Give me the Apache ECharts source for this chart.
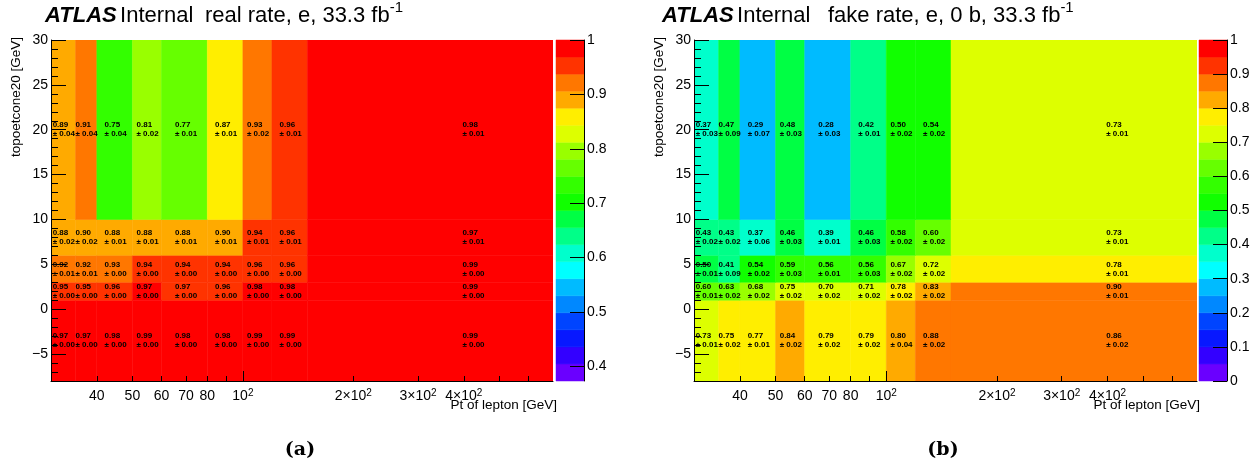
<!DOCTYPE html>
<html><head><meta charset="utf-8">
<script src="https://cdn.jsdelivr.net/npm/echarts@6/dist/echarts.min.js"></script>
<style>html,body{margin:0;padding:0;background:#fff}#c{width:1260px;height:469px}</style>
</head><body><div id="c"></div>
<script>
// ---- data ----
const PT_EDGES = [30, 35, 40, 50, 60, 80, 100, 120, 150, 700];
const ISO_EDGES = [-8, 1, 3, 6, 10, 30];
const PT_RANGE = [30, 700];
const ISO_RANGE = [-8, 30];
// rows: bottom (-8..1) to top (10..30); columns follow PT_EDGES
const REAL_RATE = [
  [0.97, 0.97, 0.98, 0.99, 0.98, 0.98, 0.99, 0.99, 0.99],
  [0.95, 0.95, 0.96, 0.97, 0.966, 0.96, 0.98, 0.98, 0.99],
  [0.92, 0.92, 0.93, 0.94, 0.94, 0.94, 0.96, 0.96, 0.99],
  [0.88, 0.90, 0.88, 0.88, 0.88, 0.90, 0.94, 0.96, 0.97],
  [0.89, 0.91, 0.748, 0.81, 0.77, 0.87, 0.93, 0.96, 0.98]
];
const REAL_ERR = [
  [0, 0, 0, 0, 0, 0, 0, 0, 0],
  [0, 0, 0, 0, 0, 0, 0, 0, 0],
  [0.01, 0.01, 0, 0, 0, 0, 0, 0, 0],
  [0.02, 0.02, 0.01, 0.01, 0.01, 0.01, 0.01, 0.01, 0.01],
  [0.04, 0.04, 0.04, 0.02, 0.01, 0.01, 0.02, 0.01, 0.01]
];
const FAKE_RATE = [
  [0.73, 0.75, 0.77, 0.84, 0.79, 0.79, 0.80, 0.88, 0.86],
  [0.60, 0.63, 0.68, 0.749, 0.70, 0.71, 0.78, 0.83, 0.898],
  [0.498, 0.41, 0.54, 0.59, 0.56, 0.56, 0.67, 0.72, 0.78],
  [0.43, 0.43, 0.37, 0.46, 0.39, 0.46, 0.58, 0.60, 0.73],
  [0.37, 0.47, 0.29, 0.48, 0.28, 0.42, 0.50, 0.54, 0.73]
];
const FAKE_ERR = [
  [0.01, 0.02, 0.01, 0.02, 0.02, 0.02, 0.04, 0.02, 0.02],
  [0.01, 0.02, 0.02, 0.02, 0.02, 0.02, 0.02, 0.02, 0.01],
  [0.01, 0.09, 0.02, 0.03, 0.01, 0.03, 0.02, 0.02, 0.01],
  [0.02, 0.02, 0.06, 0.03, 0.01, 0.03, 0.02, 0.02, 0.01],
  [0.03, 0.09, 0.07, 0.03, 0.03, 0.01, 0.02, 0.02, 0.01]
];
const REAL_Z = [0.3732, 1];
const FAKE_Z = [0, 1];
const PT_TICKS = [40, 50, 60, 70, 80, 90, 200, 300, 400, 500, 600];
const PT_MAJOR = [100];
const PT_LABELS = [40, 50, 60, 70, 80, 100, 200, 300, 400];
const ISO_MAJOR = [-5, 0, 5, 10, 15, 20, 25, 30];
const ISO_MINOR = [-7,-6,-4,-3,-2,-1,1,2,3,4,6,7,8,9,11,12,13,14,16,17,18,19,21,22,23,24,26,27,28,29];
const REAL_CBAR_TICKS = [0.4, 0.5, 0.6, 0.7, 0.8, 0.9, 1];
const FAKE_CBAR_TICKS = [0, 0.1, 0.2, 0.3, 0.4, 0.5, 0.6, 0.7, 0.8, 0.9, 1];

// ---- style ----
const PALETTE = ['#6a00ff','#3300ff','#0818ff','#0044ff','#0088ff','#00bbff','#00ffff','#00ffcc','#00ff88','#00ff44',
                 '#11ff00','#33ff00','#66ff00','#99ff00','#ddff00','#ffee00','#ffaa00','#ff7700','#ff3300','#ff0000'];
const FONT = 'Liberation Sans';

function zColor(v, range) {
  const n = PALETTE.length;
  const k = Math.floor((v - range[0]) / (range[1] - range[0]) * n + 1e-9);
  return PALETTE[Math.max(0, Math.min(n - 1, k))];
}
function buildCells(rates, errs) {
  const out = [];
  for (let r = 0; r < rates.length; r++)
    for (let c = 0; c < rates[r].length; c++)
      out.push([PT_EDGES[c], PT_EDGES[c + 1], ISO_EDGES[r], ISO_EDGES[r + 1], rates[r][c], errs[r][c]]);
  return out;
}
function cellRenderer(range) {
  return function (params, api) {
    const a = api.coord([api.value(0), api.value(3)]);
    const b = api.coord([api.value(1), api.value(2)]);
    const col = zColor(api.value(4), range);
    return { type: 'rect', shape: { x: a[0], y: a[1], width: b[0] - a[0], height: b[1] - a[1] },
             style: { fill: col, stroke: col, lineWidth: 0.5 } };
  };
}
function labelRenderer(params, api) {
  const x = (api.value(0) + api.value(1)) / 2, y = (api.value(2) + api.value(3)) / 2;
  const p = api.coord([x, y]);
  return { type: 'text', x: p[0], y: p[1],
    style: { text: '{v|' + api.value(4).toFixed(2) + '}\n{v|\u00b1 ' + api.value(5).toFixed(2) + '}',
             align: 'center', verticalAlign: 'middle',
             rich: { v: { align: 'left', fontSize: 8, fontWeight: 'bold', fontFamily: FONT, lineHeight: 9, fill: '#000' } } } };
}
function cbarRenderer(range) {
  return function (params, api) {
    const i = api.value(0), n = PALETTE.length;
    const lo = range[0] + (range[1] - range[0]) * i / n, hi = range[0] + (range[1] - range[0]) * (i + 1) / n;
    const a = api.coord([0, hi]), b = api.coord([1, lo]);
    return { type: 'rect', shape: { x: a[0], y: a[1], width: b[0] - a[0], height: b[1] - a[1] },
             style: { fill: PALETTE[i], stroke: PALETTE[i], lineWidth: 0.5 } };
  };
}
function fmtPt(v) {
  const e = Math.round(Math.log10(v));
  if (v >= 100) {
    const m = Math.round(v / 100);
    return m === 1 ? '{n|10}{s|2}' : '{n|' + m + '\u00d710}{s|2}';
  }
  return '{n|' + v + '}';
}
const black = { color: '#000', width: 1 };
function xAxesFor(grid) {
  return [{
    type: 'log', gridIndex: grid, position: 'bottom', min: PT_RANGE[0], max: PT_RANGE[1], logBase: 10, z: 10,
    axisLine: { show: true, onZero: false, lineStyle: black },
    axisTick: { show: true, inside: true, length: 5, customValues: PT_TICKS, lineStyle: black },
    axisLabel: { show: true, margin: 7, customValues: PT_LABELS, formatter: fmtPt,
      rich: { n: { fontSize: 14, lineHeight: 16, fontFamily: FONT, color: '#000' },
              s: { fontSize: 10, lineHeight: 8, verticalAlign: 'top', fontFamily: FONT, color: '#000' } } },
    splitLine: { show: false }, minorTick: { show: false }
  }, {
    type: 'log', gridIndex: grid, position: 'bottom', min: PT_RANGE[0], max: PT_RANGE[1], logBase: 10, z: 10,
    axisLine: { show: false, onZero: false },
    axisTick: { show: true, inside: true, length: 10, customValues: PT_MAJOR, lineStyle: black },
    axisLabel: { show: false }, splitLine: { show: false }
  }];
}
function yAxesFor(grid) {
  return [{
    type: 'value', gridIndex: grid, position: 'left', min: ISO_RANGE[0], max: ISO_RANGE[1], z: 10,
    axisLine: { show: true, onZero: false, lineStyle: black },
    axisTick: { show: true, inside: true, length: 15, customValues: ISO_MAJOR, lineStyle: black },
    axisLabel: { show: true, margin: 3, customValues: ISO_MAJOR, fontSize: 14, fontFamily: FONT, color: '#000',
      formatter: v => (v < 0 ? '\u2212' + (-v) : String(v)) },
    splitLine: { show: false }
  }, {
    type: 'value', gridIndex: grid, position: 'left', min: ISO_RANGE[0], max: ISO_RANGE[1], z: 10,
    axisLine: { show: false, onZero: false },
    axisTick: { show: true, inside: true, length: 7, customValues: ISO_MINOR, lineStyle: black },
    axisLabel: { show: false }, splitLine: { show: false }
  }];
}
function cbarX(grid) {
  return { type: 'value', gridIndex: grid, min: 0, max: 1, show: false };
}
function cbarY(grid, range, ticks) {
  return { type: 'value', gridIndex: grid, position: 'right', min: range[0], max: range[1], z: 10,
    axisLine: { show: true, onZero: false, lineStyle: black },
    axisTick: { show: true, inside: true, length: 14, customValues: ticks, lineStyle: black },
    axisLabel: { show: true, margin: 3, customValues: ticks, fontSize: 14, fontFamily: FONT, color: '#000',
      formatter: v => String(v) },
    splitLine: { show: false } };
}
const titleRich = {
  a: { fontSize: 22, fontWeight: 'bold', fontStyle: 'italic', fontFamily: FONT, lineHeight: 30, fill: '#000' },
  b: { fontSize: 22, fontFamily: FONT, lineHeight: 30, fill: '#000' },
  s: { fontSize: 15, fontFamily: FONT, lineHeight: 16, verticalAlign: 'top', fill: '#000' }
};
function txt(x, y, text, extra) {
  return Object.assign({ type: 'text', x: x, y: y, z: 20,
    style: Object.assign({ text: text, fill: '#000', verticalAlign: 'middle', align: 'left', fontFamily: FONT }, extra || {}) });
}

const chart = echarts.init(document.getElementById('c'), null, { renderer: 'canvas' });
chart.setOption({
  animation: false,
  backgroundColor: '#fff',
  textStyle: { fontFamily: FONT },
  grid: [
    { left: 51, top: 40, width: 502, height: 341 },
    { left: 556, top: 40, width: 28, height: 341 },
    { left: 694, top: 40, width: 503, height: 341 },
    { left: 1199, top: 40, width: 28, height: 341 }
  ],
  xAxis: [].concat(xAxesFor(0), [cbarX(1)], xAxesFor(2), [cbarX(3)]),
  yAxis: [].concat(yAxesFor(0), [cbarY(1, REAL_Z, REAL_CBAR_TICKS)], yAxesFor(2), [cbarY(3, FAKE_Z, FAKE_CBAR_TICKS)]),
  series: [
    { type: 'custom', name: 'real rate', xAxisIndex: 0, yAxisIndex: 0, z: 2, clip: true,
      encode: { x: [0, 1], y: [2, 3] }, renderItem: cellRenderer(REAL_Z), data: buildCells(REAL_RATE, REAL_ERR) },
    { type: 'custom', name: 'real labels', xAxisIndex: 0, yAxisIndex: 0, z: 3,
      encode: { x: [0, 1], y: [2, 3] }, renderItem: labelRenderer, data: buildCells(REAL_RATE, REAL_ERR) },
    { type: 'custom', name: 'real cbar', xAxisIndex: 2, yAxisIndex: 2, z: 2,
      encode: { x: 0 }, renderItem: cbarRenderer(REAL_Z), data: PALETTE.map((c, i) => [i]) },
    { type: 'custom', name: 'fake rate', xAxisIndex: 3, yAxisIndex: 3, z: 2, clip: true,
      encode: { x: [0, 1], y: [2, 3] }, renderItem: cellRenderer(FAKE_Z), data: buildCells(FAKE_RATE, FAKE_ERR) },
    { type: 'custom', name: 'fake labels', xAxisIndex: 3, yAxisIndex: 3, z: 3,
      encode: { x: [0, 1], y: [2, 3] }, renderItem: labelRenderer, data: buildCells(FAKE_RATE, FAKE_ERR) },
    { type: 'custom', name: 'fake cbar', xAxisIndex: 5, yAxisIndex: 5, z: 2,
      encode: { x: 0 }, renderItem: cbarRenderer(FAKE_Z), data: PALETTE.map((c, i) => [i]) }
  ],
  graphic: [
    txt(45, 15.5, '{a|ATLAS} {b|Internal}', { rich: titleRich }),
    txt(205, 15.5, '{b|real rate, e, 33.3 fb}{s|-1}', { rich: titleRich }),
    txt(662, 15.5, '{a|ATLAS} {b|Internal}', { rich: titleRich }),
    txt(828, 15.5, '{b|fake rate, e, 0 b, 33.3 fb}{s|-1}', { rich: titleRich }),
    Object.assign(txt(16, 37, 'topoetcone20 [GeV]', { align: 'right', fontSize: 13.5 }), { rotation: Math.PI / 2 }),
    Object.assign(txt(659, 37, 'topoetcone20 [GeV]', { align: 'right', fontSize: 13.5 }), { rotation: Math.PI / 2 }),
    txt(557, 405, 'Pt of lepton [GeV]', { align: 'right', fontSize: 13.5 }),
    txt(1200, 405, 'Pt of lepton [GeV]', { align: 'right', fontSize: 13.5 }),
    txt(300, 450, '(a)', { align: 'center', fontSize: 19, fontWeight: 'bold', fontFamily: 'DejaVu Serif' }),
    txt(943, 450, '(b)', { align: 'center', fontSize: 19, fontWeight: 'bold', fontFamily: 'DejaVu Serif' })
  ]
});
</script>
</body></html>
